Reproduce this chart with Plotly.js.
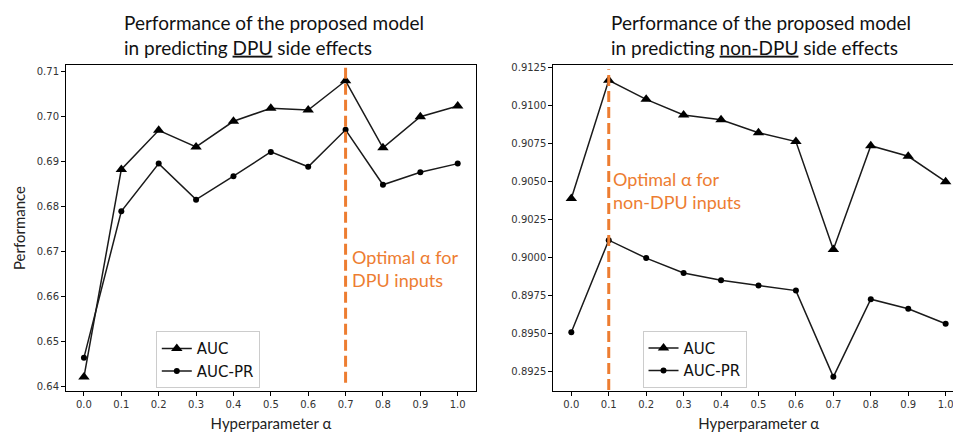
<!DOCTYPE html>
<html>
<head>
<meta charset="utf-8">
<script src="https://cdn.plot.ly/plotly-3.0.1.min.js"></script>
<style>
html, body { margin: 0; padding: 0; width: 953px; height: 432px; overflow: hidden; background: #fff; }
#chart { width: 964px; height: 432px; }
</style>
</head>
<body>
<div id="chart"></div>
<script>
const alphas = [0.0, 0.1, 0.2, 0.3, 0.4, 0.5, 0.6, 0.7, 0.8, 0.9, 1.0];
const dpuAUC   = [0.6422, 0.6883, 0.6970, 0.6933, 0.6990, 0.7019, 0.7015, 0.7080, 0.6931, 0.7000, 0.7024];
const dpuAUCPR = [0.6465, 0.6790, 0.6896, 0.6816, 0.6868, 0.6922, 0.6889, 0.6971, 0.6849, 0.6877, 0.6896];
const nonAUC   = [0.90387, 0.91165, 0.91040, 0.90937, 0.90905, 0.90820, 0.90762, 0.90052, 0.90735, 0.90665, 0.90498];
const nonAUCPR = [0.89507, 0.90113, 0.89995, 0.89897, 0.89849, 0.89814, 0.89781, 0.89213, 0.89724, 0.89661, 0.89563];
const optimalDPU = 0.7;
const optimalNonDPU = 0.1;
const seriesNames = ["AUC", "AUC-PR"];
const xTicks = [0.0, 0.1, 0.2, 0.3, 0.4, 0.5, 0.6, 0.7, 0.8, 0.9, 1.0];
const yTicksDPU = [0.64, 0.65, 0.66, 0.67, 0.68, 0.69, 0.70, 0.71];
const yTicksNon = [0.8925, 0.8950, 0.8975, 0.9000, 0.9025, 0.9050, 0.9075, 0.9100, 0.9125];

const lineColor = "#1a1a1a";
const orange = "#ED7D31";
const tickFont = {family: "DejaVu Sans", size: 10, color: "#333"};
const labelFont = {family: "Lato", size: 15, color: "#222"};
const titleFont = {family: "Lato", size: 19, color: "#111"};

function mk(x, y, name, sym, size, xa, ya, legend, show) {
  return {
    x: x, y: y, name: name, type: "scatter", mode: "lines+markers",
    xaxis: xa, yaxis: ya, legend: legend, showlegend: show,
    line: {color: lineColor, width: 1.5},
    marker: {symbol: sym, size: size, color: "#000"}
  };
}

const traces = [
  mk(alphas, dpuAUC, seriesNames[0], "triangle-up", 10, "x", "y", "legend", true),
  mk(alphas, dpuAUCPR, seriesNames[1], "circle", 6, "x", "y", "legend", true),
  mk(alphas, nonAUC, seriesNames[0], "triangle-up", 10, "x2", "y2", "legend2", true),
  mk(alphas, nonAUCPR, seriesNames[1], "circle", 6, "x2", "y2", "legend2", true)
];

function xaxisDef(domain, anchor) {
  return {
    domain: domain, anchor: anchor, range: [-0.048, 1.049],
    tickvals: xTicks, ticktext: xTicks.map(v => v.toFixed(1)),
    ticks: "outside", ticklen: 4, tickwidth: 1, tickcolor: "#000",
    showline: true, linecolor: "#000", linewidth: 1, mirror: true,
    showgrid: false, zeroline: false, tickfont: tickFont,
    title: {text: "Hyperparameter α", font: labelFont, standoff: 9}
  };
}

const legendBase = {
  bgcolor: "rgba(255,255,255,0.9)", bordercolor: "#ccc", borderwidth: 1,
  font: {family: "DejaVu Sans", size: 15, color: "#111"},
  xanchor: "left", yanchor: "top", tracegroupgap: 0
};

const layout = {
  width: 964, height: 432,
  margin: {l: 66, r: 0, t: 65, b: 41},
  paper_bgcolor: "#fff", plot_bgcolor: "#fff",
  showlegend: true,
  xaxis: xaxisDef([0, 0.4566], "y"),
  xaxis2: xaxisDef([0.5427, 1.0], "y2"),
  yaxis: {
    domain: [0, 1], anchor: "x", range: [0.6391, 0.7115],
    tickvals: yTicksDPU, ticktext: yTicksDPU.map(v => v.toFixed(2)),
    ticks: "outside", ticklen: 4, tickwidth: 1, tickcolor: "#000",
    showline: true, linecolor: "#000", linewidth: 1, mirror: true,
    showgrid: false, zeroline: false, tickfont: tickFont,
    title: {text: "Performance", font: labelFont, standoff: 7}
  },
  yaxis2: {
    domain: [0, 1], anchor: "x2", range: [0.8912, 0.91266],
    tickvals: yTicksNon, ticktext: yTicksNon.map(v => v.toFixed(4)),
    ticks: "outside", ticklen: 4, tickwidth: 1, tickcolor: "#000",
    showline: true, linecolor: "#000", linewidth: 1, mirror: true,
    showgrid: false, zeroline: false, tickfont: tickFont
  },
  legend: Object.assign({}, legendBase, {x: 0.1, y: 0.183}),
  legend2: Object.assign({}, legendBase, {x: 0.642, y: 0.185}),
  shapes: [
    {type: "line", xref: "x", yref: "y domain", x0: optimalDPU, x1: optimalDPU, y0: 0.025, y1: 1.0,
     line: {color: orange, width: 3, dash: "11px,5px"}},
    {type: "line", xref: "x2", yref: "y2 domain", x0: optimalNonDPU, x1: optimalNonDPU, y0: 0.003, y1: 0.987,
     line: {color: orange, width: 3, dash: "11px,5px"}}
  ],
  annotations: [
    {xref: "paper", yref: "paper", x: 0.2320, y: 1.012, xanchor: "center", yanchor: "bottom",
     text: "Performance of the proposed model<br>in predicting <u>DPU</u> side effects",
     showarrow: false, align: "left", font: titleFont},
    {xref: "paper", yref: "paper", x: 0.774, y: 1.012, xanchor: "center", yanchor: "bottom",
     text: "Performance of the proposed model<br>in predicting <u>non-DPU</u> side effects",
     showarrow: false, align: "left", font: titleFont},
    {xref: "x", yref: "y", x: optimalDPU, y: 0.6663, xanchor: "left", yanchor: "middle", xshift: 4,
     text: "Optimal α for<br>DPU inputs", showarrow: false, align: "left",
     font: {family: "Lato", size: 18, color: orange}},
    {xref: "x2", yref: "y2", x: optimalNonDPU, y: 0.90443, xanchor: "left", yanchor: "middle", xshift: 2,
     text: "Optimal α for<br>non-DPU inputs", showarrow: false, align: "left",
     font: {family: "Lato", size: 18, color: orange}}
  ]
};

Plotly.newPlot("chart", traces, layout, {displayModeBar: false, staticPlot: true});
</script>
</body>
</html>
